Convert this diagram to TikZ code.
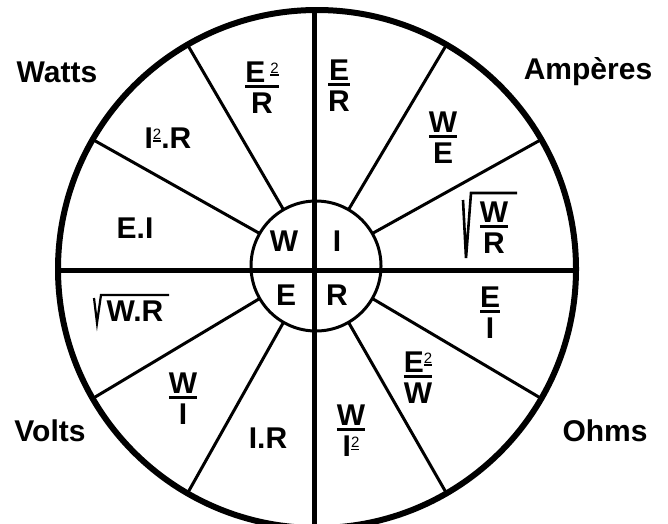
\documentclass[tikz,border=0pt]{standalone}
\usepackage{fontspec}
\setmainfont{Liberation Sans}
\usetikzlibrary{calc}
\newcommand\frc[2]{\vbox{\offinterlineskip\halign{\hfil##\hfil\cr\vrule height 21.5pt width 0pt #1\cr\noalign{\kern3pt\hrule height 3pt\kern4pt}\vrule height 21.5pt width 0pt #2\cr}}}
\newcommand\sqtwo{\raisebox{6.5pt}{\vbox{\hbox{\mdseries\fontsize{15}{15}\selectfont 2}\kern1pt\hrule height 1.5pt}}}
\begin{document}
\begin{tikzpicture}[x=1pt,y=-1pt,
  txt/.style={inner sep=0pt,font=\fontsize{30}{32}\selectfont\bfseries},
  axisline/.style={line width=5pt},
  spoke/.style={line width=3pt},
  rad/.style={line width=2.2pt,line join=miter}]
\useasboundingbox (0,0) rectangle (668,523);
\fill[white] (0,0) rectangle (668,523);
\clip (0,0) rectangle (668,523);
\coordinate (O) at (317,269);
\coordinate (Oi) at (316,266);
% axes
\coordinate (vt) at (314,8);
\coordinate (vb) at (314,530);
\coordinate (hl) at (57,270);
\coordinate (hr) at (577,270);
\draw[axisline] (vt) -- (vb);
\draw[axisline] (hl) -- (hr);
% spokes
\foreach \a in {30,60,120,150,210,240,300,330}
  \draw[spoke] ($(Oi)+(-\a:65)$) -- ($(O)+(-\a:259)$);
% circles
\draw[line width=3pt] (Oi) circle[radius=65];
\draw[line width=6pt] (O) circle[radius=259];
% outer labels
\node[txt] (watts) at (57,72) {Watts};
\node[txt] (amp) at (588,72) {Ampères};
\node[txt] (volts) at (50,431) {Volts};
\node[txt] (ohms) at (605,431) {Ohms};
% inner letters
\node[txt] (W) at (284,241) {W};
\node[txt] (I) at (337,241) {I};
\node[txt] (E) at (286,295) {E};
\node[txt] (R) at (337,295) {R};
% sectors
\node[txt] (ER) at (339,85) {\frc{E}{R}};
\node[txt] (E2R) at (262,87) {\frc{E\,\sqtwo}{R}};
\node[txt] (I2R) at (168,138) {I\sqtwo.R};
\node[txt] (EI) at (135,228) {E.I};
\node[txt] (WR) at (135,311) {W.R};
\node[txt] (WI) at (183,398) {\frc{W}{I}};
\node[txt] (IR) at (268,438) {I.R};
\node[txt] (WI2) at (351,430) {\frc{W}{I\sqtwo}};
\node[txt] (E2W) at (418,377) {\frc{E\sqtwo}{W}};
\node[txt] (Efrac) at (490,312) {\frc{E}{I}};
\node[txt] (WE) at (443,137) {\frc{W}{E}};
\node[txt] (WRf) at (494,227) {\frc{W}{R}};
% radicals
\coordinate (r1a) at (94,298);
\coordinate (r1b) at (97,323);
\coordinate (r1c) at (101,295);
\coordinate (r1d) at (169,295);
\draw[rad] (r1a) -- (r1b) -- (r1c) -- (r1d);
\coordinate (r2a) at (463,200);
\coordinate (r2b) at (466,258);
\coordinate (r2c) at (471,193);
\coordinate (r2d) at (517,193);
\draw[rad,line width=2.6pt] (r2a) -- (r2b) -- (r2c) -- (r2d);
\end{tikzpicture}
\end{document}
